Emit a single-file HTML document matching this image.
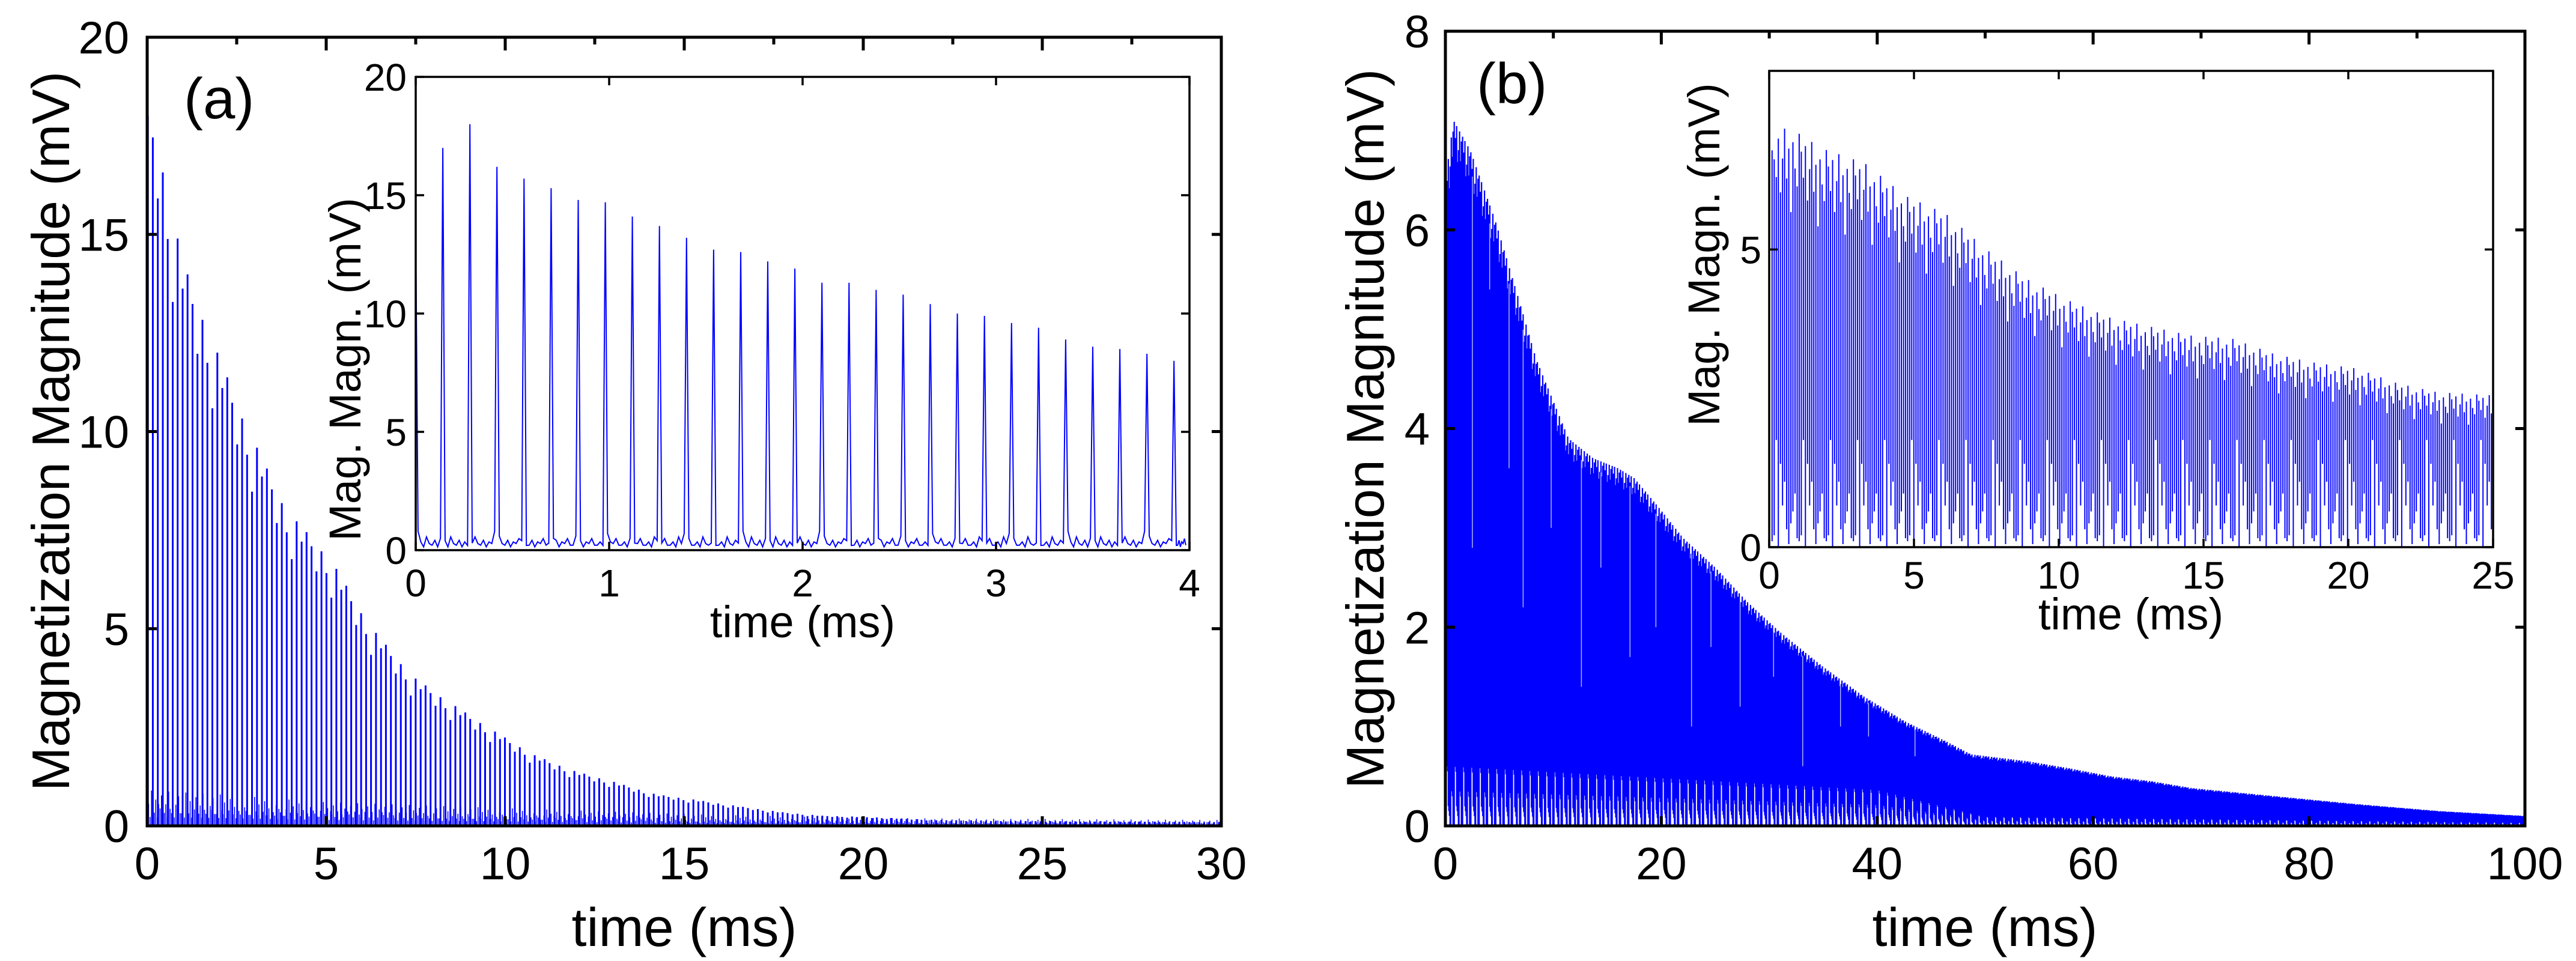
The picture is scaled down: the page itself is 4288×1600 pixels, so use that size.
<!DOCTYPE html>
<html><head><meta charset="utf-8"><style>
html,body{margin:0;padding:0;background:#fff;}
svg{display:block;}
text{font-family:"Liberation Sans",Arial,sans-serif;fill:#000;}
</style></head><body>
<svg id="fig" width="4288" height="1600" viewBox="0 0 4288 1600" xmlns="http://www.w3.org/2000/svg">
<rect width="4288" height="1600" fill="#fff"/>
<g id="layer"></g>
</svg>
<script>
// ---------- data ----------
const aEnvT = [0.25,0.5,1,1.65,2.8,3.9,5.1,6.2,7.4,8.5,9.7,10.8,11.9,13.1,14.2,15.4,16.5,17.7,18.8,20,22,25,30];
const aEnvV = [18,16.3,14.3,12.7,10.1,8.0,6.8,5.1,3.8,3.1,2.4,1.8,1.4,1.1,0.8,0.65,0.5,0.35,0.26,0.23,0.15,0.12,0.1];
const aRatio = [1,0.97,0.9,0.99,0.93,0.86,1,0.95];
const aNoiseT = [0,2,5,10,15,20,30];
const aNoiseV = [0.9,0.8,0.6,0.45,0.3,0.2,0.15];
const aXTicks = [0,5,10,15,20,25,30];
const aYTicks = [0,5,10,15,20];
const aInPeakT = [0.0,0.14,0.28,0.42,0.56,0.7,0.84,0.98,1.12,1.26,1.4,1.54,1.68,1.82,1.96,2.1,2.24,2.38,2.52,2.66,2.8,2.94,3.08,3.22,3.36,3.5,3.64,3.78,3.92];
const aInPeakV = [13.5,17,18,16.2,15.7,15.3,14.8,14.7,14.1,13.7,13.2,12.7,12.6,12.2,11.9,11.3,11.3,11.0,10.8,10.4,10.0,9.9,9.6,9.4,8.9,8.6,8.5,8.3,8.0];
const aInBase = [0.3,0.5,0.2,0.8,0.4,0.3,0.6,0.2,0.5,0.4,0.7,0.3];
const aInXTicks = [0,1,2,3,4];
const aInYTicks = [0,5,10,15,20];
const bEnvT = [0,0.76,2.3,4.6,6.8,8.4,9.9,11.4,13.7,16,17.5,19.8,22,25,28,31,35,38.8,42.6,46.4,48.7,54,57.8,61.6,65.4,69.2,76.8,84.4,92,100];
const bEnvV = [6.5,7.1,6.8,6.1,5.3,4.7,4.3,3.9,3.7,3.6,3.5,3.2,2.9,2.6,2.25,1.95,1.6,1.3,1.05,0.85,0.72,0.65,0.58,0.5,0.45,0.38,0.3,0.22,0.15,0.1];
const bRatio = [1,0.93,0.98,0.88,1,0.95,0.82,0.97,0.91,1,0.86,0.96,0.99,0.9];
const bLow = [0,0.55,0.1,0.35,0,0.7,0.2,0,0.45,0.05,0.6,0.15,0,0.3];
const bLowScaleT = [0,20,40,50,100];
const bLowScaleV = [1,0.8,0.6,0.15,0.05];
const bStreakT = [2.5,4.1,5.9,7.2,9.8,12.6,14.4,17.1,19.5,22.8,24.6,27.3,30.4,33.1,36.6,39.2,43.5];
const bStreakV = [2.8,5.4,3.6,2.2,3.0,1.4,2.6,1.7,2.0,1.0,1.8,1.2,1.5,0.6,1.0,0.9,0.7];
const bXTicks = [0,20,40,60,80,100];
const bYTicks = [0,2,4,6,8];
const bInEnvT = [0,0.3,0.7,1.8,3.3,4.7,6.1,7.5,8.9,10.3,11.8,13.2,14.6,16,17.4,18.8,20.3,21.7,23.1,25];
const bInEnvV = [6.5,7.0,7.05,6.7,6.45,5.9,5.6,5.0,4.5,4.15,3.85,3.7,3.55,3.5,3.25,3.1,3.0,2.75,2.6,2.55];
const bInRatio = [1,0.96,0.9,0.98,0.85,0.93,1,0.88,0.95,0.8,0.97,0.91,0.87];
const bInLow = [0.1,0.6,0.3,1.4,0.2,0.9,0.05,0.7,1.8,0.15,0.4,1.1,0.0];
const bInXTicks = [0,5,10,15,20,25];
const bInYTicks = [0,5];

// ---------- helpers ----------
const NS = "http://www.w3.org/2000/svg";
const layer = document.getElementById('layer');
function mk(tag, attrs, parent){
  const e = document.createElementNS(NS, tag);
  for (const k in attrs) e.setAttribute(k, attrs[k]);
  (parent||layer).appendChild(e);
  return e;
}
function interp(ts, vs, t){
  if (t <= ts[0]) return vs[0];
  for (let i=1;i<ts.length;i++){
    if (t <= ts[i]){ const f=(t-ts[i-1])/(ts[i]-ts[i-1]); return vs[i-1]+f*(vs[i]-vs[i-1]); }
  }
  return vs[vs.length-1];
}
function axes(x0,y0,x1,y1,xmin,xmax,ymin,ymax){
  return { x: v => x0+(v-xmin)/(xmax-xmin)*(x1-x0), y: v => y1-(v-ymin)/(ymax-ymin)*(y1-y0), x0,y0,x1,y1 };
}
function frame(ax, sw, name){
  const r = mk('rect',{x:ax.x0,y:ax.y0,width:ax.x1-ax.x0,height:ax.y1-ax.y0,fill:'none',stroke:'#000','stroke-width':sw});
  
  
}
function tickLabel(x,y,str,size,anchor,name){
  const t = mk('text',{x:x,y:y,'font-size':size,'text-anchor':anchor});
  t.textContent = str;
  
  
  return t;
}

// ---------- Panel (a) main ----------
const A = axes(245,62,2033,1375,0,30,0,20);
(function(){
  const g = mk('g',{});
  
  
  let d=''; let i=0;
  for (let t=0.02; t<=30; t+=0.1385){
    const v = interp(aEnvT,aEnvV,t)*aRatio[i%aRatio.length];
    d += 'M'+A.x(t).toFixed(1)+' '+A.y(0)+'V'+A.y(v).toFixed(1);
    i++;
  }
  mk('path',{d:d,stroke:'#0000ff','stroke-width':3,fill:'none'},g);
  let d2=''; i=0;
  for (let t=0; t<=30; t+=0.04){
    const v = interp(aNoiseT,aNoiseV,t)*aInBase[i%aInBase.length]/0.8;
    d2 += 'M'+A.x(t).toFixed(1)+' '+A.y(0)+'V'+A.y(v).toFixed(1);
    i++;
  }
  mk('path',{d:d2,stroke:'#0000ff','stroke-width':1.5,fill:'none'},g);
})();
frame(A,5,'panel-a-frame');
aXTicks.forEach(v=>{
  mk('line',{x1:A.x(v),x2:A.x(v),y1:A.y1,y2:A.y1-16,stroke:'#000','stroke-width':5});
  mk('line',{x1:A.x(v),x2:A.x(v),y1:A.y0,y2:A.y0+22,stroke:'#000','stroke-width':5});
  if (v<30) mk('line',{x1:A.x(v+2.5),x2:A.x(v+2.5),y1:A.y0,y2:A.y0+12,stroke:'#000','stroke-width':5});
  tickLabel(A.x(v),1464,String(v),76,'middle','panel-a-x-tick-label');
});
aYTicks.forEach(v=>{
  mk('line',{x1:A.x0,x2:A.x0+16,y1:A.y(v),y2:A.y(v),stroke:'#000','stroke-width':5});
  mk('line',{x1:A.x1,x2:A.x1-16,y1:A.y(v),y2:A.y(v),stroke:'#000','stroke-width':5});
  tickLabel(215,A.y(v)+27,String(v),76,'end','panel-a-y-tick-label');
});
tickLabel(1139,1575,'time (ms)',90,'middle','panel-a-x-axis-title');
{const t=tickLabel(0,0,'Magnetization Magnitude (mV)',88,'middle','panel-a-y-axis-title');
 t.setAttribute('transform','translate(115,718) rotate(-90)');}
tickLabel(306,197,'(a)',96,'start','panel-a-label');

// ---------- Panel (a) inset ----------
const AI = axes(692,128,1980,916,0,4,0,20);
mk('rect',{x:AI.x0,y:AI.y0,width:AI.x1-AI.x0,height:AI.y1-AI.y0,fill:'#fff'});
(function(){
  const g = mk('g',{});
  
  
  let pts=[];
  for (let i=0;i<aInPeakT.length;i++){
    const t=aInPeakT[i], v=aInPeakV[i];
    const nxt = i+1<aInPeakT.length ? aInPeakT[i+1] : 4;
    pts.push([t-0.012,aInBase[i%aInBase.length]]);
    pts.push([t,v]);
    pts.push([t+0.012,aInBase[(i+3)%aInBase.length]]);
    for (let k=1;k<8;k++){
      const tt=t+0.012+(nxt-t-0.024)*k/8;
      pts.push([tt,aInBase[(i+k)%aInBase.length]*0.7]);
    }
  }
  const d='M'+pts.filter(p=>p[0]>=0&&p[0]<=4).map(p=>AI.x(p[0]).toFixed(1)+' '+AI.y(p[1]).toFixed(1)).join('L');
  mk('path',{d:d,stroke:'#0000ff','stroke-width':2,fill:'none'},g);
})();
frame(AI,3.5,'panel-a-inset-frame');
aInXTicks.forEach(v=>{
  mk('line',{x1:AI.x(v),x2:AI.x(v),y1:AI.y1,y2:AI.y1-14,stroke:'#000','stroke-width':3.5});
  mk('line',{x1:AI.x(v),x2:AI.x(v),y1:AI.y0,y2:AI.y0+14,stroke:'#000','stroke-width':3.5});
  tickLabel(AI.x(v),993,String(v),64,'middle','panel-a-inset-x-tick-label');
});
aInYTicks.forEach(v=>{
  mk('line',{x1:AI.x0,x2:AI.x0+14,y1:AI.y(v),y2:AI.y(v),stroke:'#000','stroke-width':3.5});
  mk('line',{x1:AI.x1,x2:AI.x1-14,y1:AI.y(v),y2:AI.y(v),stroke:'#000','stroke-width':3.5});
  tickLabel(677,AI.y(v)+23,String(v),64,'end','panel-a-inset-y-tick-label');
});
tickLabel(1336,1061,'time (ms)',74,'middle','panel-a-inset-x-axis-title');
{const t=tickLabel(0,0,'Mag. Magn. (mV)',74,'middle','panel-a-inset-y-axis-title');
 t.setAttribute('transform','translate(600,615) rotate(-90)');}

// ---------- Panel (b) main ----------
const B = axes(2406,52,4203,1375,0,100,0,8);
(function(){
  const g = mk('g',{});
  
  
  let d=''; let i=0;
  for (let t=0.05;t<=100;t+=0.055){
    const v=interp(bEnvT,bEnvV,t)*bRatio[i%bRatio.length];
    const lo=bLow[(i*5)%bLow.length]*interp(bLowScaleT,bLowScaleV,t);
    d+='M'+B.x(t).toFixed(1)+' '+B.y(lo).toFixed(1)+'V'+B.y(v).toFixed(1);
    i++;
  }
  mk('path',{d:d,stroke:'#0000ff','stroke-width':2.2,fill:'none'},g);
  let dw='';
  for (let k=0;k<bStreakT.length;k++){
    const t=bStreakT[k];
    const top=interp(bEnvT,bEnvV,t)*0.97;
    dw+='M'+B.x(t).toFixed(1)+' '+B.y(bStreakV[k]).toFixed(1)+'V'+B.y(top).toFixed(1);
  }
  mk('path',{d:dw,stroke:'#aab4ff','stroke-width':1.5,fill:'none'},g);
})();
frame(B,5,'panel-b-frame');
bXTicks.forEach(v=>{
  mk('line',{x1:B.x(v),x2:B.x(v),y1:B.y1,y2:B.y1-16,stroke:'#000','stroke-width':5});
  mk('line',{x1:B.x(v),x2:B.x(v),y1:B.y0,y2:B.y0+22,stroke:'#000','stroke-width':5});
  if (v<100) mk('line',{x1:B.x(v+10),x2:B.x(v+10),y1:B.y0,y2:B.y0+12,stroke:'#000','stroke-width':5});
  tickLabel(B.x(v),1464,String(v),76,'middle','panel-b-x-tick-label');
});
bYTicks.forEach(v=>{
  mk('line',{x1:B.x0,x2:B.x0+16,y1:B.y(v),y2:B.y(v),stroke:'#000','stroke-width':5});
  mk('line',{x1:B.x1,x2:B.x1-16,y1:B.y(v),y2:B.y(v),stroke:'#000','stroke-width':5});
  tickLabel(2380,B.y(v)+27,String(v),76,'end','panel-b-y-tick-label');
});
tickLabel(3304,1575,'time (ms)',90,'middle','panel-b-x-axis-title');
{const t=tickLabel(0,0,'Magnetization Magnitude (mV)',88,'middle','panel-b-y-axis-title');
 t.setAttribute('transform','translate(2303,714) rotate(-90)');}
tickLabel(2458,172,'(b)',96,'start','panel-b-label');

// ---------- Panel (b) inset ----------
const BI = axes(2945,118,4150,911,0,25,0,8);
mk('rect',{x:BI.x0,y:BI.y0,width:BI.x1-BI.x0,height:BI.y1-BI.y0,fill:'#fff'});
(function(){
  const g = mk('g',{});
  
  
  let d=''; let i=0;
  for (let t=0.1;t<=24.95;t+=0.072){
    const v=interp(bInEnvT,bInEnvV,t)*bInRatio[i%bInRatio.length];
    const lo=bInLow[(i*4)%bInLow.length];
    d+='M'+BI.x(t).toFixed(1)+' '+BI.y(lo).toFixed(1)+'V'+BI.y(v).toFixed(1);
    i++;
  }
  mk('path',{d:d,stroke:'#0000ff','stroke-width':2,fill:'none'},g);
})();
frame(BI,3.5,'panel-b-inset-frame');
bInXTicks.forEach(v=>{
  mk('line',{x1:BI.x(v),x2:BI.x(v),y1:BI.y1,y2:BI.y1-14,stroke:'#000','stroke-width':3.5});
  mk('line',{x1:BI.x(v),x2:BI.x(v),y1:BI.y0,y2:BI.y0+14,stroke:'#000','stroke-width':3.5});
  tickLabel(BI.x(v),980,String(v),64,'middle','panel-b-inset-x-tick-label');
});
bInYTicks.forEach(v=>{
  mk('line',{x1:BI.x0,x2:BI.x0+14,y1:BI.y(v),y2:BI.y(v),stroke:'#000','stroke-width':3.5});
  mk('line',{x1:BI.x1,x2:BI.x1-14,y1:BI.y(v),y2:BI.y(v),stroke:'#000','stroke-width':3.5});
  tickLabel(2932,BI.y(v)+23,String(v),64,'end','panel-b-inset-y-tick-label');
});
tickLabel(3547,1048,'time (ms)',74,'middle','panel-b-inset-x-axis-title');
{const t=tickLabel(0,0,'Mag. Magn. (mV)',74,'middle','panel-b-inset-y-axis-title');
 t.setAttribute('transform','translate(2862,424) rotate(-90)');}
</script>
</body></html>
